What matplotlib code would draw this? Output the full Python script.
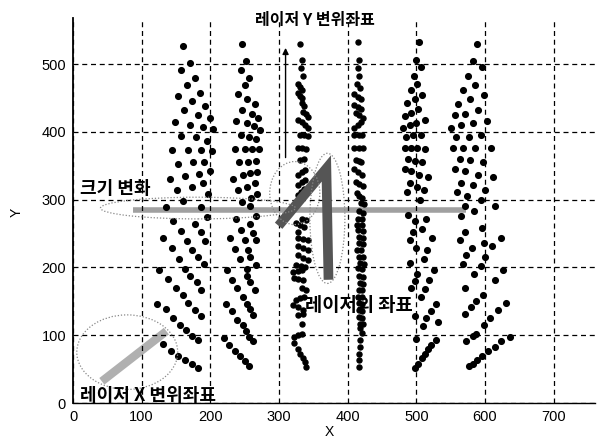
import numpy as np
import matplotlib
matplotlib.use("Agg")
import matplotlib.pyplot as plt
from matplotlib.patches import Ellipse

plt.rcParams['font.family'] = ['Liberation Sans', 'Noto Sans CJK KR', 'DejaVu Sans']

# dot columns (x, y)
col1 = np.array([
    (160.6, 527), (170, 502), (157, 492), (177.6, 480), (165.5, 469), (185, 458), (153, 453),
    (174, 445), (192, 438), (162, 432), (182, 425), (199, 420), (148.5, 415), (171, 410),
    (189, 407), (204, 404), (158, 394), (179, 392), (195.5, 387), (143.6, 373), (167.8, 373),
    (186, 373), (202, 372), (153, 353), (175, 355), (190.7, 355), (199.4, 342), (184, 338),
    (163, 335), (141, 331), (189, 324), (172.7, 318), (151, 314), (197, 308), (160.6, 298),
    (135, 289), (187, 289), (195.5, 275), (146, 269), (177.6, 264), (157, 254), (186, 252),
    (131.4, 243), (165.5, 239), (192, 239), (143.6, 228), (174, 226), (154.7, 212), (182, 215),
    (190.7, 205), (125.6, 196), (163, 198), (138.7, 183), (171, 187), (180, 178), (150, 169),
    (187, 167), (159.6, 159), (122.7, 146), (168, 148), (135, 138), (177.6, 137), (187, 128),
    (146, 126), (155.7, 115), (164.5, 108), (174, 99), (182, 93), (131.4, 87), (142, 77),
    (153, 70), (163, 64), (172.7, 57), (182, 51)])

col2 = np.array([
    (245.5, 529), (252, 504), (244, 492), (256, 480), (250, 469), (240.6, 456), (254, 448),
    (265, 441), (245.5, 432), (260, 427), (270, 421), (237, 416), (252.8, 413), (263.5, 408),
    (273, 403), (244, 395), (257, 392), (267, 389), (236, 375), (250, 375), (260, 375),
    (271, 375), (242, 355), (255, 356), (266, 357), (268, 341), (258, 339), (248, 336),
    (233, 331), (265, 325), (254, 319), (240.6, 314), (268, 308), (259, 303), (245.5, 297),
    (257.6, 290), (267, 276), (237, 271), (257.6, 264), (244, 255), (262.5, 251), (228.5, 243),
    (250, 241), (267, 240), (236, 227), (255, 226), (243, 213), (257.6, 215), (266, 204),
    (224.6, 196), (252.8, 198), (232, 181), (253.6, 187), (257.6, 178), (239, 169), (265, 167),
    (247, 157), (222.7, 146), (252.8, 146), (231, 135), (257.6, 138), (262.5, 130), (239, 123),
    (247, 115), (251.8, 106), (256.6, 98), (262.5, 91), (219.8, 96), (227.5, 86), (236, 76),
    (243, 69), (250, 62), (256.6, 54)])

col3 = np.array([
    (330, 530), (333, 506), (332, 494), (335, 482), (328, 470), (331, 466), (333, 462),
    (328, 457), (331, 453), (333, 450), (333, 442), (337, 438), (335, 430), (340, 426),
    (342, 422), (328, 418), (333, 414), (338, 410), (342, 406), (330, 396), (336, 395),
    (342, 394), (328, 376), (334, 376), (340, 375), (330, 358), (336, 360), (328, 337),
    (333, 341), (338, 344), (328, 322), (333, 326), (338, 329), (328, 307), (332, 311),
    (336, 315), (333, 272), (340, 270), (325, 265), (330, 262), (337, 260), (328, 252),
    (328, 243), (335, 242), (342, 240), (328, 231), (335, 228), (342, 226), (328, 218),
    (335, 214), (342, 211), (325, 203), (332, 202), (338, 201), (320, 194), (327, 195),
    (333, 196), (322, 184), (328, 183), (335, 182), (333, 169), (340, 167), (325, 152),
    (330, 155), (337, 157), (321, 145), (328, 141), (335, 137), (328, 130), (335, 132),
    (333, 117), (322, 98), (327, 100), (333, 102), (322, 88), (327, 80), (331, 73),
    (335, 66), (338, 60), (340, 53)])

col4 = np.array([
    (415, 533), (417, 506), (415, 494), (417, 482), (413, 470), (418, 465), (410, 456),
    (415, 452), (420, 448), (410, 439), (415, 437), (420, 434), (412, 428), (417, 425),
    (422, 421), (410, 406), (415, 410), (420, 414), (410, 396), (416, 396), (421, 396),
    (410, 376), (416, 376), (422, 376), (412, 358), (416, 357), (420, 356), (410, 345),
    (415, 341), (421, 337), (412, 326), (417, 323), (422, 320), (413, 310), (417, 306),
    (421, 302), (420, 295), (424, 294), (416, 283), (422, 281), (415, 272), (421, 271),
    (414, 263), (421, 262), (415, 255), (422, 254), (416, 245), (423, 244), (416, 236),
    (422, 235), (414, 226), (420, 225), (416, 216), (422, 215), (418, 206), (424, 205),
    (415, 199), (421, 198), (416, 187), (422, 186), (418, 177), (422, 176), (417, 167),
    (421, 166), (415, 157), (421, 156), (416, 147), (421, 146), (416, 137), (421, 136),
    (416, 127), (421, 126), (418, 117), (422, 116), (418, 110), (421, 103), (418, 93),
    (418, 83), (417, 73), (416, 63), (416, 53)])

col5 = np.array([
    (503.6, 532), (499, 506), (506.6, 495), (497, 483), (501.6, 471), (493, 462), (507.6, 455),
    (498, 449), (487, 442), (502.6, 434), (492, 428), (483, 424), (513, 418), (500, 413),
    (490.5, 410), (480.8, 406), (506.6, 396), (495, 395), (485.7, 393), (483, 376),
    (492.7, 376), (501.6, 376), (513, 375), (488, 360), (498, 357), (508.5, 355), (483, 345),
    (493, 342), (503.6, 337), (517, 334), (490.5, 324), (501.6, 319), (511, 314), (487, 311),
    (505, 299), (488, 277), (498, 268), (514.8, 272), (495, 253), (507.6, 256), (490.5, 240),
    (523, 244), (500, 228), (516, 226), (511, 213), (490.5, 206), (501.6, 190), (526, 196),
    (498, 180), (518, 181), (492, 169), (513, 168), (506.6, 157), (529, 146), (498, 128),
    (522, 136), (514.8, 125), (510, 114), (531, 120), (500, 95), (498, 51), (502.6, 58),
    (507.6, 66), (512.4, 73), (517, 79), (522, 86), (528, 93)])

col6 = np.array([
    (589, 530), (582.7, 504), (595, 495), (575.4, 483), (586, 469), (568, 462), (599, 455),
    (578, 448), (561, 441), (590, 432), (570.6, 427), (557, 425), (603.6, 416), (582.7, 413),
    (565.7, 410), (551, 406), (594, 396), (576.4, 393), (558.5, 392), (609, 376), (585, 376),
    (568, 376), (553.5, 376), (597, 356), (578, 358), (563, 360), (611.8, 334), (590, 337),
    (571.6, 342), (556, 345), (599.7, 314), (582.7, 321), (565.7, 324), (560, 312),
    (574.5, 305), (594, 299), (570.6, 290), (584, 283), (614, 290), (565.7, 276), (596, 258),
    (570.6, 253), (623, 244), (563, 240), (599, 236), (581, 228), (610, 231), (573, 218),
    (600.5, 215), (568, 205), (594, 202), (626, 196), (584, 190), (614, 181), (571.6, 169),
    (597, 159), (587.5, 150), (631, 147), (580, 141), (571.6, 132), (619, 137), (608, 125),
    (599, 115), (587.5, 102), (582.7, 99), (573, 92), (636, 97), (624, 91), (614, 82),
    (604.5, 76), (596, 69), (589, 64), (582.7, 57), (576.4, 54)])

# annotation traces
x_trace_x = [42, 136]          # laser X displacement
x_trace_y = [32, 106]
size_trace_x = [87, 573]       # size change band
size_trace_y = [285, 285]
laser_trace_x = [304, 369, 372]  # laser coordinate
laser_trace_y = [267, 346, 189]

fig = plt.figure(figsize=(5.97, 4.38), dpi=100)
ax = fig.add_axes([0.1223, 0.0799, 0.874, 0.879])

ax.plot(size_trace_x, size_trace_y, color='#a0a0a0', lw=4, solid_capstyle='butt', zorder=1)
ax.plot(x_trace_x, x_trace_y, color='#b0b0b0', lw=6, solid_capstyle='butt', zorder=1)

for pts in (col1, col2, col5, col6):
    ax.plot(pts[:, 0], pts[:, 1], 'o', color='black', ms=4.1, zorder=3)
for pts in (col3, col4):
    ax.plot(pts[:, 0], pts[:, 1], 'o', color='black', ms=3.6, zorder=3)

ax.plot(laser_trace_x, laser_trace_y, color='#555555', lw=7, solid_joinstyle='miter', zorder=4)

ell_kw = dict(fill=False, ls=(0, (1, 1.5)), ec='#888888', lw=0.9, zorder=5)
ax.add_patch(Ellipse((79, 75), 147, 110, **ell_kw))
ax.add_patch(Ellipse((182, 287.6), 284, 32, **ell_kw))
ax.add_patch(Ellipse((323, 309.7), 73, 93, **ell_kw))
ax.add_patch(Ellipse((370.5, 272.4), 51, 192, **ell_kw))

ax.annotate('', xy=(309.6, 528), xytext=(309.6, 358),
            arrowprops=dict(arrowstyle='-|>', color='black', lw=1.0, mutation_scale=9))

kr = dict(family=['Noto Sans CJK KR'], fontweight='bold', va='center', ha='left',
          color='black', zorder=6)
ax.text(265, 565, '레이저 Y 변위좌표', fontsize=11.5, clip_on=False, **kr)
ax.text(10, 316, '크기 변화', fontsize=13, **kr)
ax.text(338, 144.5, '레이저의 좌표', fontsize=13.5, **kr)
ax.text(10, 11, '레이저 X 변위좌표', fontsize=13, **kr)

ax.set_xlim(0, 760)
ax.set_ylim(0, 568)
ax.set_xticks(range(0, 800, 100))
ax.set_yticks(range(0, 600, 100))
ax.grid(True, color='black', ls=(0, (4, 3)), lw=0.9)
ax.tick_params(length=0, labelsize=10.5, pad=5)
for s in ('top', 'right'):
    ax.spines[s].set_visible(False)
ax.spines['left'].set_linewidth(1.3)
ax.spines['bottom'].set_linewidth(1.0)

ax.set_xlabel('X', fontsize=10)
ax.set_ylabel('Y', fontsize=10)
ax.xaxis.set_label_coords(0.492, -0.058)
ax.yaxis.set_label_coords(-0.095, 0.496)

fig.savefig('out.png', dpi=100)
